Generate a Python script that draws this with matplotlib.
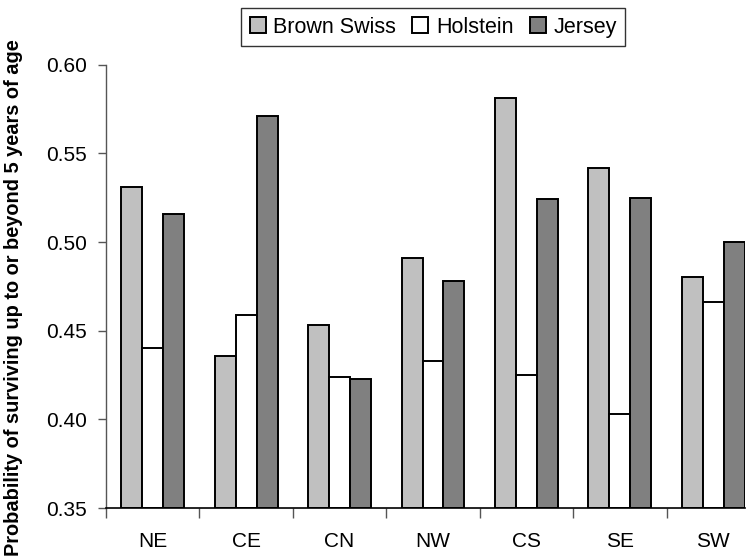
import matplotlib.pyplot as plt
import numpy as np

plt.rcParams['font.family'] = ['Liberation Sans', 'DejaVu Sans']

regions = ["NE", "CE", "CN", "NW", "CS", "SE", "SW"]
brown_swiss = [0.531, 0.436, 0.453, 0.491, 0.581, 0.542, 0.480]
holstein = [0.440, 0.459, 0.424, 0.433, 0.425, 0.403, 0.466]
jersey = [0.516, 0.571, 0.423, 0.478, 0.524, 0.525, 0.500]
breeds = ["Brown Swiss", "Holstein", "Jersey"]
colors = ["#C0C0C0", "#FFFFFF", "#808080"]

fig = plt.figure(figsize=(7.53, 5.6), dpi=100)
ax = fig.add_axes([106 / 753, 1 - 508 / 560, (745 - 106) / 753, (508 - 64.7) / 560])

x = np.arange(len(regions))
w = 0.224
for i, (vals, c, name) in enumerate(zip([brown_swiss, holstein, jersey], colors, breeds)):
    ax.bar(x + (i - 1) * w, np.array(vals) - 0.35, w, bottom=0.35, color=c,
           edgecolor="black", linewidth=1.4, label=name)

ax.set_ylim(0.35, 0.60)
ax.set_xlim(-0.5, 6.34)
ax.set_yticks([0.35, 0.40, 0.45, 0.50, 0.55, 0.60])
ax.set_yticklabels(["0.35", "0.40", "0.45", "0.50", "0.55", "0.60"], fontsize=15)
ax.set_xticks(np.arange(-0.5, 6.5, 1.0))
ax.set_xticklabels([])
ax.set_xticks(x, minor=True)
ax.set_xticklabels(regions, minor=True, fontsize=15)
ax.tick_params(axis="x", which="minor", length=0, pad=17)
ax.tick_params(axis="x", which="major", length=7, width=1, color="#555555")
ax.tick_params(axis="y", length=6, width=1, pad=8, color="#555555")

for s in ["top", "right"]:
    ax.spines[s].set_visible(False)
ax.spines["left"].set_color("#555555")
ax.spines["bottom"].set_color("black")
ax.spines["left"].set_linewidth(1)
ax.spines["bottom"].set_linewidth(1.2)

leg = fig.legend(loc="upper left", bbox_to_anchor=(241 / 753, 1 - 8 / 560), ncol=3,
                 fontsize=15.5, frameon=True, fancybox=False, handlelength=0.75,
                 handleheight=0.75, handletextpad=0.35, columnspacing=0.75,
                 borderpad=0.4, borderaxespad=0)
leg.get_frame().set_edgecolor("black")
leg.get_frame().set_linewidth(1)

fig.text(14 / 753, 1 - 556 / 560,
         "Probability of surviving up to or beyond 5 years of age",
         rotation=90, va="bottom", ha="center", fontsize=14.4, fontweight="bold")

plt.savefig("out.png", dpi=100)
